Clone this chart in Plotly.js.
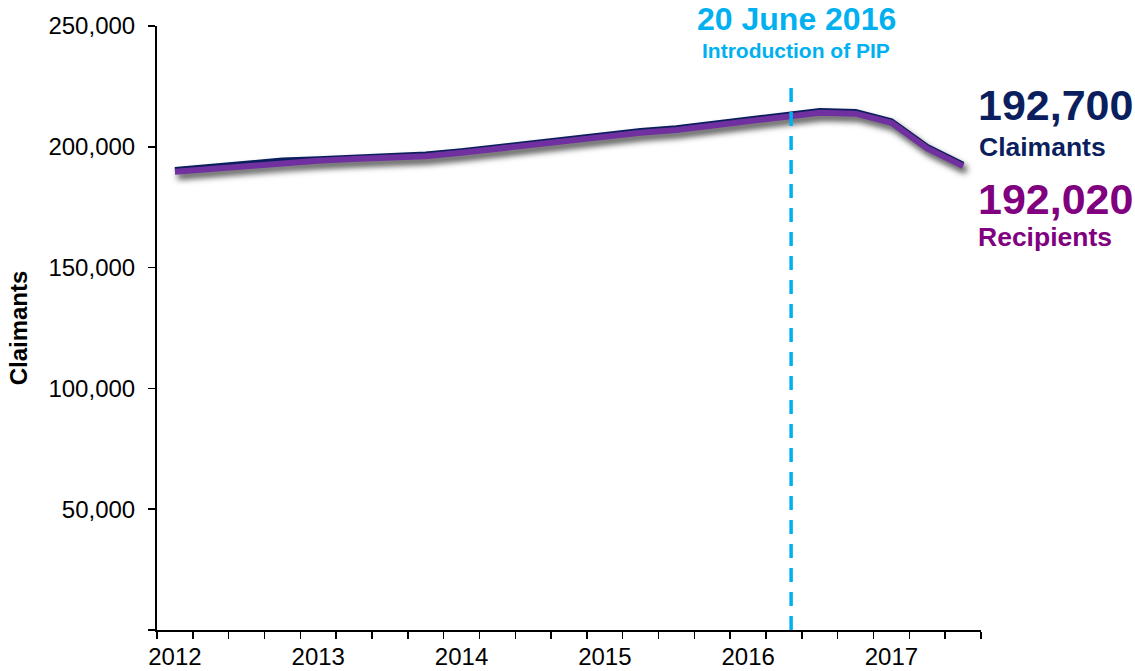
<!DOCTYPE html>
<html>
<head>
<meta charset="utf-8">
<script src="https://cdn.plot.ly/plotly-3.0.1.min.js"></script>
<style>
  html, body { margin: 0; padding: 0; background: #fff; }
  #chart { width: 1135px; height: 671px; }
  .scatterlayer .trace path.js-line { filter: drop-shadow(3px 5px 3px rgba(0,0,0,0.5)); }
</style>
</head>
<body>
<div id="chart"></div>
<script>
// Quarterly categories (Mar, Jun, Sep, Dec)
const quarters = [
  "Mar 2012","Jun 2012","Sep 2012","Dec 2012",
  "Mar 2013","Jun 2013","Sep 2013","Dec 2013",
  "Mar 2014","Jun 2014","Sep 2014","Dec 2014",
  "Mar 2015","Jun 2015","Sep 2015","Dec 2015",
  "Mar 2016","Jun 2016","Sep 2016","Dec 2016",
  "Mar 2017","Jun 2017","Sep 2017"
];
const claimants = [
  190500, 191700, 193200, 194400,
  195000, 195700, 196300, 196900,
  198300, 200000, 201900, 203700,
  205200, 206600, 207800, 209500,
  211400, 213200, 214900, 214500,
  210700, 200000, 192700
];
const recipients = [
  189700, 190900, 192400, 193600,
  194200, 194900, 195500, 196100,
  197500, 199200, 201100, 202900,
  204400, 205800, 207000, 208700,
  210600, 212400, 214100, 213700,
  209900, 199300, 192020
];
const yearLabels = ["2012","2013","2014","2015","2016","2017"];
const yearLabelIdx = [0, 4, 8, 12, 16, 20];
const yTicks = [0, 50000, 100000, 150000, 200000, 250000];
const yTickText = ["", "50,000", "100,000", "150,000", "200,000", "250,000"];
const pipIndex = 17.2;          // 20 June 2016 on the quarterly scale
const latestClaimants = "192,700";
const latestRecipients = "192,020";

const xIdx = quarters.map((_, i) => i);
const FONT = "Liberation Sans, Arial, sans-serif";
const NAVY = "#0b1f5e";
const PURPLE = "#7030a0";
const TEXTPURPLE = "#800080";
const CYAN = "#00b0f0";

const traces = [
  { x: xIdx, y: claimants, type: "scatter", mode: "lines", name: "Claimants",
    line: { color: NAVY, width: 5.5, shape: "linear" }, hoverinfo: "skip" },
  { x: xIdx, y: recipients, type: "scatter", mode: "lines", name: "Recipients",
    line: { color: PURPLE, width: 6, shape: "linear" }, hoverinfo: "skip" }
];

const layout = {
  width: 1135, height: 671,
  margin: { l: 157, r: 154, t: 26, b: 41 },
  paper_bgcolor: "#ffffff", plot_bgcolor: "#ffffff",
  showlegend: false,
  font: { family: FONT, color: "#000" },
  xaxis: {
    range: [-0.5, 22.5],
    tickmode: "array", tickvals: yearLabelIdx, ticktext: yearLabels,
    ticks: "", showgrid: false, zeroline: false,
    showline: true, linecolor: "#000", linewidth: 2,
    ticklabelstandoff: 4,
    tickfont: { family: FONT, size: 24, color: "#000" },
    minor: { tickmode: "linear", tick0: -0.5, dtick: 1, ticks: "outside", ticklen: 7, tickwidth: 1.5, tickcolor: "#000", showgrid: false },
    fixedrange: true
  },
  yaxis: {
    range: [0, 250000],
    tickmode: "array", tickvals: yTicks, ticktext: yTickText,
    ticks: "outside", ticklen: 7, tickwidth: 1.5, tickcolor: "#000",
    ticklabelstandoff: 8,
    showgrid: false, zeroline: false,
    showline: true, linecolor: "#000", linewidth: 2,
    tickfont: { family: FONT, size: 24, color: "#000" },
    title: { text: "<b>Claimants</b>", font: { family: FONT, size: 24, color: "#000" }, standoff: 14 },
    fixedrange: true
  },
  shapes: [
    { type: "line", xref: "x", yref: "paper", x0: pipIndex, x1: pipIndex, y0: 0, y1: 0.902,
      line: { color: CYAN, width: 3.5, dash: "14px,10px" } }
  ],
  annotations: [
    { xref: "x", yref: "paper", x: pipIndex, y: 1, xshift: 5, yshift: 7, xanchor: "center", yanchor: "middle",
      text: "<b>20 June 2016</b>", showarrow: false, font: { family: FONT, size: 32, color: CYAN } },
    { xref: "x", yref: "paper", x: pipIndex, y: 1, xshift: 5, yshift: -24, xanchor: "center", yanchor: "middle",
      text: "<b>Introduction of PIP</b>", showarrow: false, font: { family: FONT, size: 21, color: CYAN } },
    { xref: "paper", yref: "paper", x: 1, y: 0.869, xshift: -5, xanchor: "left", yanchor: "middle",
      text: "<b>" + latestClaimants + "</b>", showarrow: false, font: { family: FONT, size: 43, color: NAVY } },
    { xref: "paper", yref: "paper", x: 1, y: 0.800, xshift: -4, xanchor: "left", yanchor: "middle",
      text: "<b>Claimants</b>", showarrow: false, font: { family: FONT, size: 26.5, color: NAVY } },
    { xref: "paper", yref: "paper", x: 1, y: 0.714, xshift: -5, xanchor: "left", yanchor: "middle",
      text: "<b>" + latestRecipients + "</b>", showarrow: false, font: { family: FONT, size: 43, color: TEXTPURPLE } },
    { xref: "paper", yref: "paper", x: 1, y: 0.651, xshift: -5, xanchor: "left", yanchor: "middle",
      text: "<b>Recipients</b>", showarrow: false, font: { family: FONT, size: 26.5, color: TEXTPURPLE } }
  ]
};

Plotly.newPlot("chart", traces, layout, { displayModeBar: false, staticPlot: true });
</script>
</body>
</html>
